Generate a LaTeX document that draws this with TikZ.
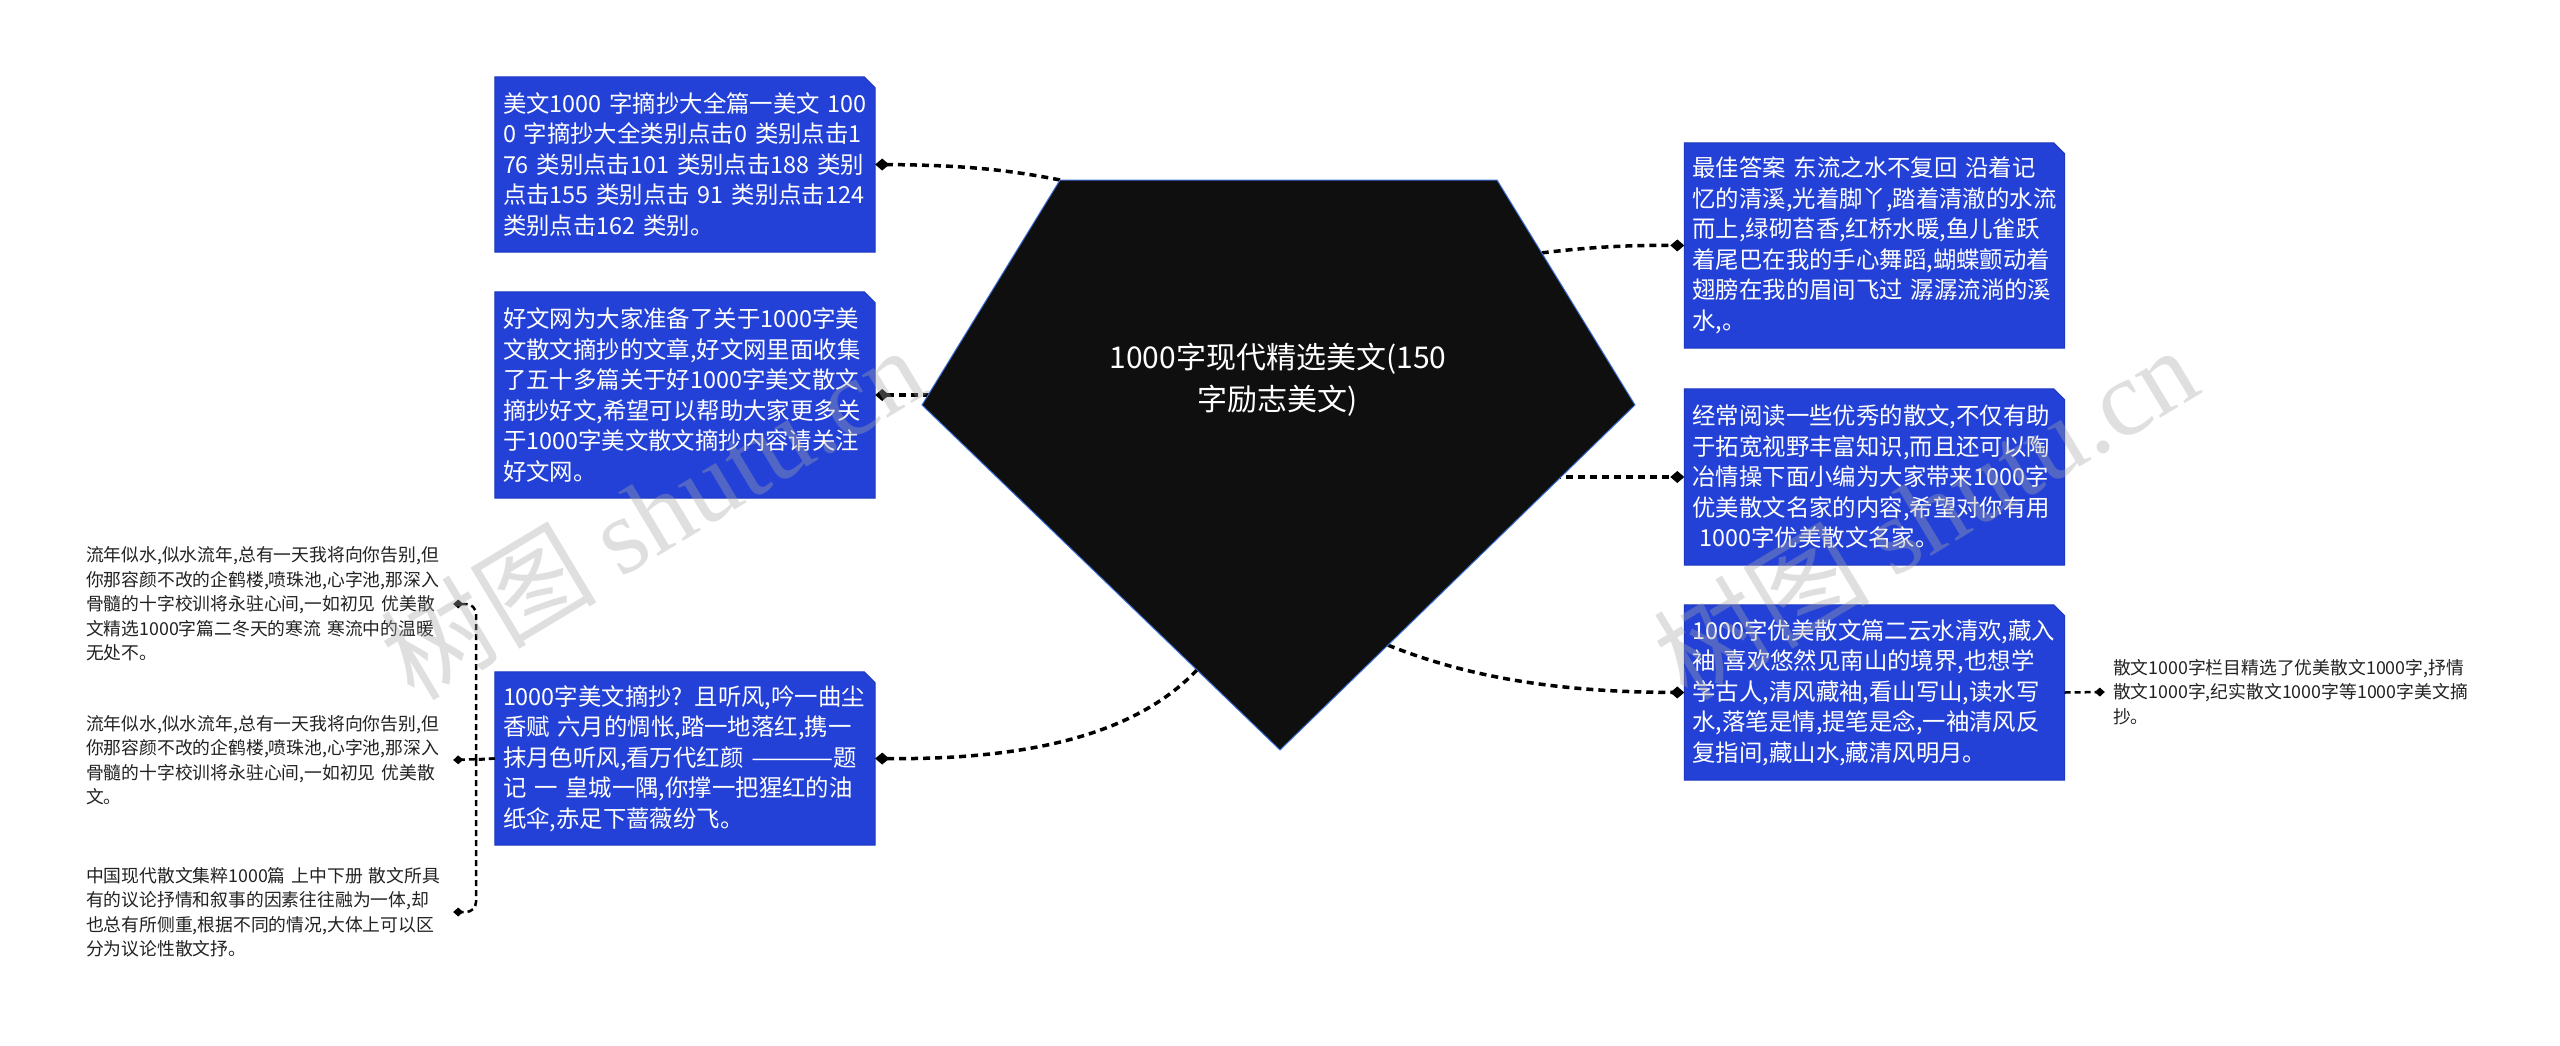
\documentclass[tikz,border=0pt]{standalone}
\usepackage{fontspec}
\usepackage{graphicx}
\setmainfont{Noto Sans CJK SC}
\newfontfamily\wmserif{Liberation Serif}
\usetikzlibrary{arrows.meta,calc,backgrounds}
\definecolor{boxblue}{HTML}{2341D6}
\definecolor{boxedge}{HTML}{1D37BE}
\definecolor{rootfill}{HTML}{0F0F10}
\definecolor{rootedge}{HTML}{3B6FD6}
\definecolor{smalltext}{HTML}{222222}
\definecolor{wmgray}{HTML}{A8A8A8}
\begin{document}
\begin{tikzpicture}[x=1pt,y=-1pt,
  bluebox/.style={minimum height=#1, text width=364pt, inner xsep=8pt, inner ysep=0pt,
    align=left, text=white, font=\fontsize{23.4}{30.5}\selectfont},
  smallbox/.style={text width=#1, inner xsep=6pt, inner ysep=0pt, align=left,
    text=smalltext, font=\fontsize{17.8}{24.5}\selectfont},
  roottext/.style={align=center, text=white, font=\fontsize{30}{42}\selectfont},
  conn/.style={line width=3.5pt, dash pattern=on 7pt off 5pt, -{Diamond[length=14pt,width=12pt]}},
  connsmall/.style={line width=2.5pt, dash pattern=on 6pt off 4pt, -{Diamond[length=10pt,width=9pt]}},
  connline/.style={line width=2.5pt, dash pattern=on 6pt off 4pt},
  wm/.style={text=wmgray, text opacity=0.36, font=\fontsize{108}{108}\selectfont}
]
\useasboundingbox (0,0) rectangle (2560,1045);

% pentagon corners
\coordinate (p1) at (1060,180);
\coordinate (p2) at (1497,180);
\coordinate (p3) at (1635,405);
\coordinate (p4) at (1280,750);
\coordinate (p5) at (922,405);
\coordinate (s3) at ($(p5)!0.768!(p4)$);
\coordinate (s4) at ($(p2)!0.324!(p3)$);
\coordinate (s6) at ($(p3)!0.696!(p4)$);
\coordinate (pc) at (1278,400);

% blue boxes
\node[bluebox=175pt] (b1) at (685,164.5) {美文1000 字摘抄大全篇一美文 100\\0 字摘抄大全类别点击0 类别点击1\\76 类别点击101 类别点击188 类别\\点击155 类别点击 91 类别点击124\\类别点击162 类别。};
\node[bluebox=206pt] (b2) at (685,395) {好文网为大家准备了关于1000字美\\文散文摘抄的文章,好文网里面收集\\了五十多篇关于好1000字美文散文\\摘抄好文,希望可以帮助大家更多关\\于1000字美文散文摘抄内容请关注\\好文网。};
\node[bluebox=173pt] (b3) at (685,758.5) {1000字美文摘抄? 且听风,吟一曲尘\\香赋 六月的惆怅,踏一地落红,携一\\抹月色听风,看万代红颜 \scalebox{1.43}[1]{———}题\\记 一 皇城一隅,你撑一把猩红的油\\纸伞,赤足下蔷薇纷飞。};
\node[bluebox=205pt] (b4) at (1874.5,245.5) {最佳答案 东流之水不复回 沿着记\\忆的清溪,光着脚丫,踏着清澈的水流\\而上,绿砌苔香,红桥水暖,鱼儿雀跃\\着尾巴在我的手心舞蹈,蝴蝶颤动着\\翅膀在我的眉间飞过 潺潺流淌的溪\\水,。};
\node[bluebox=176pt] (b5) at (1874.5,477) {经常阅读一些优秀的散文,不仅有助\\于拓宽视野丰富知识,而且还可以陶\\冶情操下面小编为大家带来1000字\\优美散文名家的内容,希望对你有用\\\hspace*{0.3em}1000字优美散文名家。};
\node[bluebox=175pt] (b6) at (1874.5,692.5) {1000字优美散文篇二云水清欢,藏入\\袖 喜欢悠然见南山的境界,也想学\\学古人,清风藏袖,看山写山,读水写\\水,落笔是情,提笔是念,一袖清风反\\复指间,藏山水,藏清风明月。};

\begin{scope}[on background layer]
\fill[white] (0,0) rectangle (2560,1045);
\foreach \n in {b1,b2,b3,b4,b5,b6}
  \filldraw[fill=boxblue, draw=boxedge, line width=1pt]
    (\n.south west) -- (\n.north west) -- ([xshift=-11pt]\n.north east)
    -- ([yshift=-11pt]\n.north east) -- (\n.south east) -- cycle;
\end{scope}

% small texts
\node[smallbox=361pt] (t1) at (266.5,604) {流年似水,似水流年,总有一天我将向你告别,但\\你那容颜不改的企鹤楼,喷珠池,心字池,那深入\\骨髓的十字校训将永驻心间,一如初见 优美散\\文精选1000字篇二冬天的寒流 寒流中的温暖\\无处不。};
\node[smallbox=361pt] (t2) at (266.5,760) {流年似水,似水流年,总有一天我将向你告别,但\\你那容颜不改的企鹤楼,喷珠池,心字池,那深入\\骨髓的十字校训将永驻心间,一如初见 优美散\\文。};
\node[smallbox=361pt] (t3) at (266.5,912) {中国现代散文集粹1000篇 上中下册 散文所具\\有的议论抒情和叙事的因素往往融为一体,却\\也总有所侧重,根据不同的情况,大体上可以区\\分为议论性散文抒。};
\node[smallbox=360pt, inner xsep=8pt] (t7) at (2293,692) {散文1000字栏目精选了优美散文1000字,抒情\\散文1000字,纪实散文1000字等1000字美文摘\\抄。};

% connectors from root
\draw[conn] (p1) .. controls (1000,168) and (950,165) .. (b1.east);
\draw[conn] (b2.east -| pc) -- (b2.east);
\draw[conn] (s3) .. controls (1140,730) and (1040,760) .. (b3.east);
\draw[conn] (s4) .. controls (1590,247) and (1630,245) .. (b4.west);
\draw[conn] (b5.west -| pc) -- (b5.west);
\draw[conn] (s6) .. controls (1470,678) and (1560,692) .. (b6.west);

% left tree from b3
\coordinate (j) at (476,760);
\draw[connline] (b3.west) -- (j);
\draw[connsmall] (b3.west) -- (t2.east);
\draw[connsmall, rounded corners=10pt] (j) -- (j |- t1.east) -- (t1.east);
\draw[connsmall, rounded corners=10pt] (j) -- (j |- t3.east) -- (t3.east);
% right child of b6
\draw[connsmall] (b6.east) -- (t7.west);

% root pentagon
\filldraw[fill=rootfill, draw=rootedge, line width=1pt] (p1) -- (p2) -- (p3) -- (p4) -- (p5) -- cycle;
\node[roottext] (root) at (1278,380) {1000字现代精选美文(150\\字励志美文)};

% watermarks
\node[wm, rotate=31] (wm1) at (652,512) {树图 {\wmserif shutu.cn}};
\node[wm, rotate=31] (wm2) at (1925,512) {树图 {\wmserif shutu.cn}};
\end{tikzpicture}
\end{document}
